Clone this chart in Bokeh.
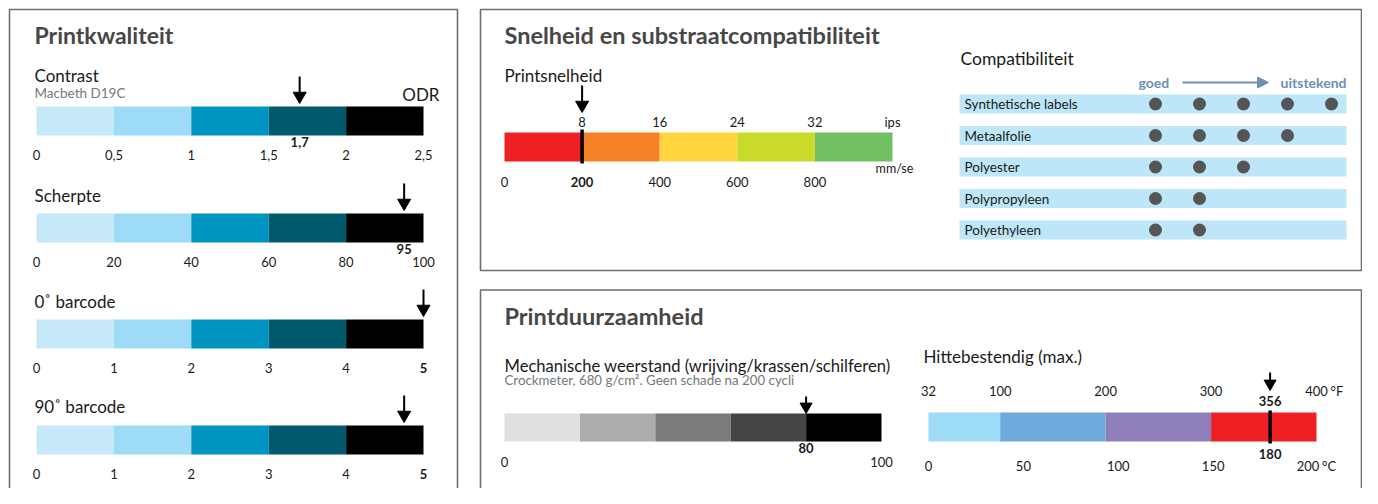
from bokeh.plotting import figure
from bokeh.models import Range1d, Arrow, NormalHead
from bokeh.core.properties import value
from bokeh.embed import file_html
from bokeh.resources import INLINE

FONT = "Lato"

# ---------------- data ----------------
quality_names = ["Contrast", "Scherpte", "0˚ barcode", "90˚ barcode"]
quality_ticks = [[0, 0.5, 1, 1.5, 2, 2.5], [0, 20, 40, 60, 80, 100],
                 [0, 1, 2, 3, 4, 5], [0, 1, 2, 3, 4, 5]]
quality_tick_labels = [["0", "0,5", "1", "1,5", "2", "2,5"],
                       ["0", "20", "40", "60", "80", "100"],
                       ["0", "1", "2", "3", "4", "5"],
                       ["0", "1", "2", "3", "4", "5"]]
quality_values = [1.7, 95, 5, 4.75]
quality_value_labels = ["1,7", "95", "", ""]
quality_bold_tick = [None, None, "5", "5"]
quality_colors = ["#c6e9fa", "#9edbf6", "#0095c1", "#005a6e", "#000000"]

speed_mm_ticks = [0, 200, 400, 600, 800, 1000]
speed_mm_labels = ["0", "200", "400", "600", "800"]
speed_ips_labels = ["8", "16", "24", "32", "ips"]
speed_colors = ["#ee2024", "#f58025", "#ffd540", "#c9da2a", "#72bf63"]
speed_value_mm = 200

compat_names = ["Synthetische labels", "Metaalfolie", "Polyester", "Polypropyleen", "Polyethyleen"]
compat_levels = [5, 4, 3, 2, 2]

mech_ticks = [0, 20, 40, 60, 80, 100]
mech_colors = ["#e0e0e0", "#acacac", "#7b7b7b", "#454545", "#000000"]
mech_value = 80

heat_f_edges = [32, 100, 200, 300, 400]
heat_f_labels = ["32", "100", "200", "300", "400"]
heat_c_ticks = [0, 50, 100, 150, 200]
heat_colors = ["#9ddbf6", "#6eaadb", "#8e7fbb", "#ee2024"]
heat_value_f = 356
heat_value_c = 180

# ---------------- canvas ----------------
W, H = 1362, 488
p = figure(width=W, height=H, x_range=Range1d(0, W), y_range=Range1d(H, 0),
           output_backend="svg", toolbar_location=None, min_border=0,
           x_axis_type=None, y_axis_type=None, tools="")
p.outline_line_color = None
p.background_fill_color = "white"
p.border_fill_color = "white"


def txt(target, x, y, s, size=13, color="#1a1a1a", bold=False, align="left",
        baseline="alphabetic", xoff=0):
    yoff = -0.38 * size if baseline == "alphabetic" else 0
    target.text(x=x if isinstance(x, list) else [x], y=y if isinstance(y, list) else [y],
                text=s if isinstance(s, list) else [s],
                text_font=value(FONT), text_font_size=f"{size}px", text_color=color,
                text_font_style="bold" if bold else "normal",
                text_align=align, text_baseline=baseline, x_offset=xoff, y_offset=yoff)


def sub_x(lo, hi, px0, px1):
    return p.subplot(x_source=Range1d(lo, hi), x_target=Range1d(px0, px1),
                     y_source=Range1d(H, 0), y_target=Range1d(H, 0))


def down_arrow(sub, x, y_top, y_tip, head=13, width=2):
    c = y_tip - 0.577 * head
    sub.segment(x0=[x], y0=[y_top], x1=[x], y1=[c], line_color="black", line_width=width)
    sub.scatter(x=[x], y=[c], marker="inverted_triangle", size=head,
                fill_color="black", line_color="black")


TITLE_C = "#474747"
BORDER = "#6e6e6e"

# panels
for (l, t, r, b) in [(9, 9, 457, 540), (480, 9, 1361, 270), (480, 289.5, 1361, 540)]:
    p.quad(left=[l], right=[r], top=[t], bottom=[b], fill_color=None,
           line_color=BORDER, line_width=1.6)

# ---------------- Printkwaliteit ----------------
txt(p, 34, 43, "Printkwaliteit", size=23, color=TITLE_C, bold=True)
bar_tops = [106, 213, 319, 425]
name_off = [25, 12, 12, 13]
for i, name in enumerate(quality_names):
    bt = bar_tops[i]
    ticks = quality_ticks[i]
    sub = sub_x(ticks[0], ticks[-1], 36, 423)
    sub.quad(left=ticks[:-1], right=ticks[1:], top=bt, bottom=bt + 29,
             fill_color=quality_colors, line_color=None)
    txt(p, 34, bt - name_off[i], name, size=17)
    for tv, tl in zip(ticks, quality_tick_labels[i]):
        txt(sub, tv, bt + 53, tl, size=13, align="center", bold=(tl == quality_bold_tick[i]))
    down_arrow(sub, quality_values[i], bt - 30, bt - 3)
    if quality_value_labels[i]:
        txt(sub, quality_values[i], bt + 40, quality_value_labels[i], size=13,
            bold=True, align="center")
txt(p, 34, 98, "Macbeth D19C", size=13.5, color="#777777")
txt(p, 439, 100, "ODR", size=17, align="right")

# ---------------- Snelheid ----------------
txt(p, 504, 43, "Snelheid en substraatcompatibiliteit", size=23.5, color=TITLE_C, bold=True)
txt(p, 504, 81, "Printsnelheid", size=17)
ss = sub_x(speed_mm_ticks[0], speed_mm_ticks[-1], 504, 892)
ss.quad(left=speed_mm_ticks[:-1], right=speed_mm_ticks[1:], top=132, bottom=161,
        fill_color=speed_colors, line_color=None)
for tv, tl in zip(speed_mm_ticks[1:], speed_ips_labels):
    txt(ss, tv, 126, tl, size=13, align="center")
for tv, tl in zip(speed_mm_ticks[:-1], speed_mm_labels):
    txt(ss, tv, 186, tl, size=13, align="center", bold=(tv == speed_value_mm))
txt(ss, speed_mm_ticks[-1], 173, "mm/se", size=12.5, align="center", xoff=2)
ss.segment(x0=[speed_value_mm], y0=[129], x1=[speed_value_mm], y1=[163],
           line_color="black", line_width=3.5)
down_arrow(ss, speed_value_mm, 85, 112)

# compatibility
txt(p, 960, 65, "Compatibiliteit", size=17.5)
GOED = "#6f8fb3"
txt(p, 1138, 87, "goed", size=14, color=GOED, bold=True)
txt(p, 1346, 87, "uitstekend", size=14, color=GOED, bold=True, align="right")
p.add_layout(Arrow(end=NormalHead(size=11, fill_color=GOED, line_color=GOED),
                   x_start=1182, y_start=82, x_end=1268, y_end=82,
                   line_color=GOED, line_width=2))
rows = list(range(len(compat_names)))
sr = p.subplot(x_source=Range1d(0, W), x_target=Range1d(0, W),
               y_source=Range1d(-0.5, 4.5), y_target=Range1d(87.75, 245.25))
sr.hbar(y=rows, left=959, right=1346, height=19 / 31.5, fill_color="#bde6f8", line_color=None)
txt(sr, [964] * len(rows), rows, compat_names, size=13.5, baseline="middle")
sd = p.subplot(x_source=Range1d(1, 5), x_target=Range1d(1155, 1331),
               y_source=Range1d(-0.5, 4.5), y_target=Range1d(87.75, 245.25))
dx, dy = [], []
for r, n in zip(rows, compat_levels):
    for k in range(1, n + 1):
        dx.append(k)
        dy.append(r)
sd.scatter(x=dx, y=dy, size=13, fill_color="#555555", line_color=None)

# ---------------- Printduurzaamheid ----------------
txt(p, 504, 324, "Printduurzaamheid", size=23.5, color=TITLE_C, bold=True)
txt(p, 504, 372, "Mechanische weerstand (wrijving/krassen/schilferen)", size=16.6)
txt(p, 504, 385, "Crockmeter, 680 g/cm². Geen schade na 200 cycli", size=13.3, color="#777777")
sm = sub_x(mech_ticks[0], mech_ticks[-1], 504, 881)
sm.quad(left=mech_ticks[:-1], right=mech_ticks[1:], top=413, bottom=441,
        fill_color=mech_colors, line_color=None)
down_arrow(sm, mech_value, 396, 413, head=12)
txt(sm, mech_value, 452, str(mech_value), size=13, bold=True, align="center")
txt(sm, mech_ticks[0], 466, str(mech_ticks[0]), size=13, align="center")
txt(sm, mech_ticks[-1], 466, str(mech_ticks[-1]), size=13, align="center")

# heat
txt(p, 923, 362, "Hittebestendig (max.)", size=17)
sh = sub_x(heat_f_edges[0], heat_f_edges[-1], 928, 1316)
sh.quad(left=heat_f_edges[:-1], right=heat_f_edges[1:], top=412, bottom=441,
        fill_color=heat_colors, line_color=None)
for tv, tl in zip(heat_f_edges, heat_f_labels):
    txt(sh, tv, 395, tl, size=13, align="center")
txt(sh, heat_f_edges[-1], 395, "°F", size=13, xoff=14)
for c in heat_c_ticks:
    txt(sh, c * 9 / 5 + 32, 470, str(c), size=13, align="center")
txt(sh, heat_c_ticks[-1] * 9 / 5 + 32, 470, "°C", size=13, xoff=14)
sh.segment(x0=[heat_value_f], y0=[410], x1=[heat_value_f], y1=[443],
           line_color="black", line_width=3.5)
down_arrow(sh, heat_value_f, 372, 390, head=12)
txt(sh, heat_value_f, 405, str(heat_value_f), size=13, bold=True, align="center")
txt(sh, heat_value_f, 458, str(heat_value_c), size=13, bold=True, align="center")

open("out.html", "w").write(file_html(p, INLINE))
